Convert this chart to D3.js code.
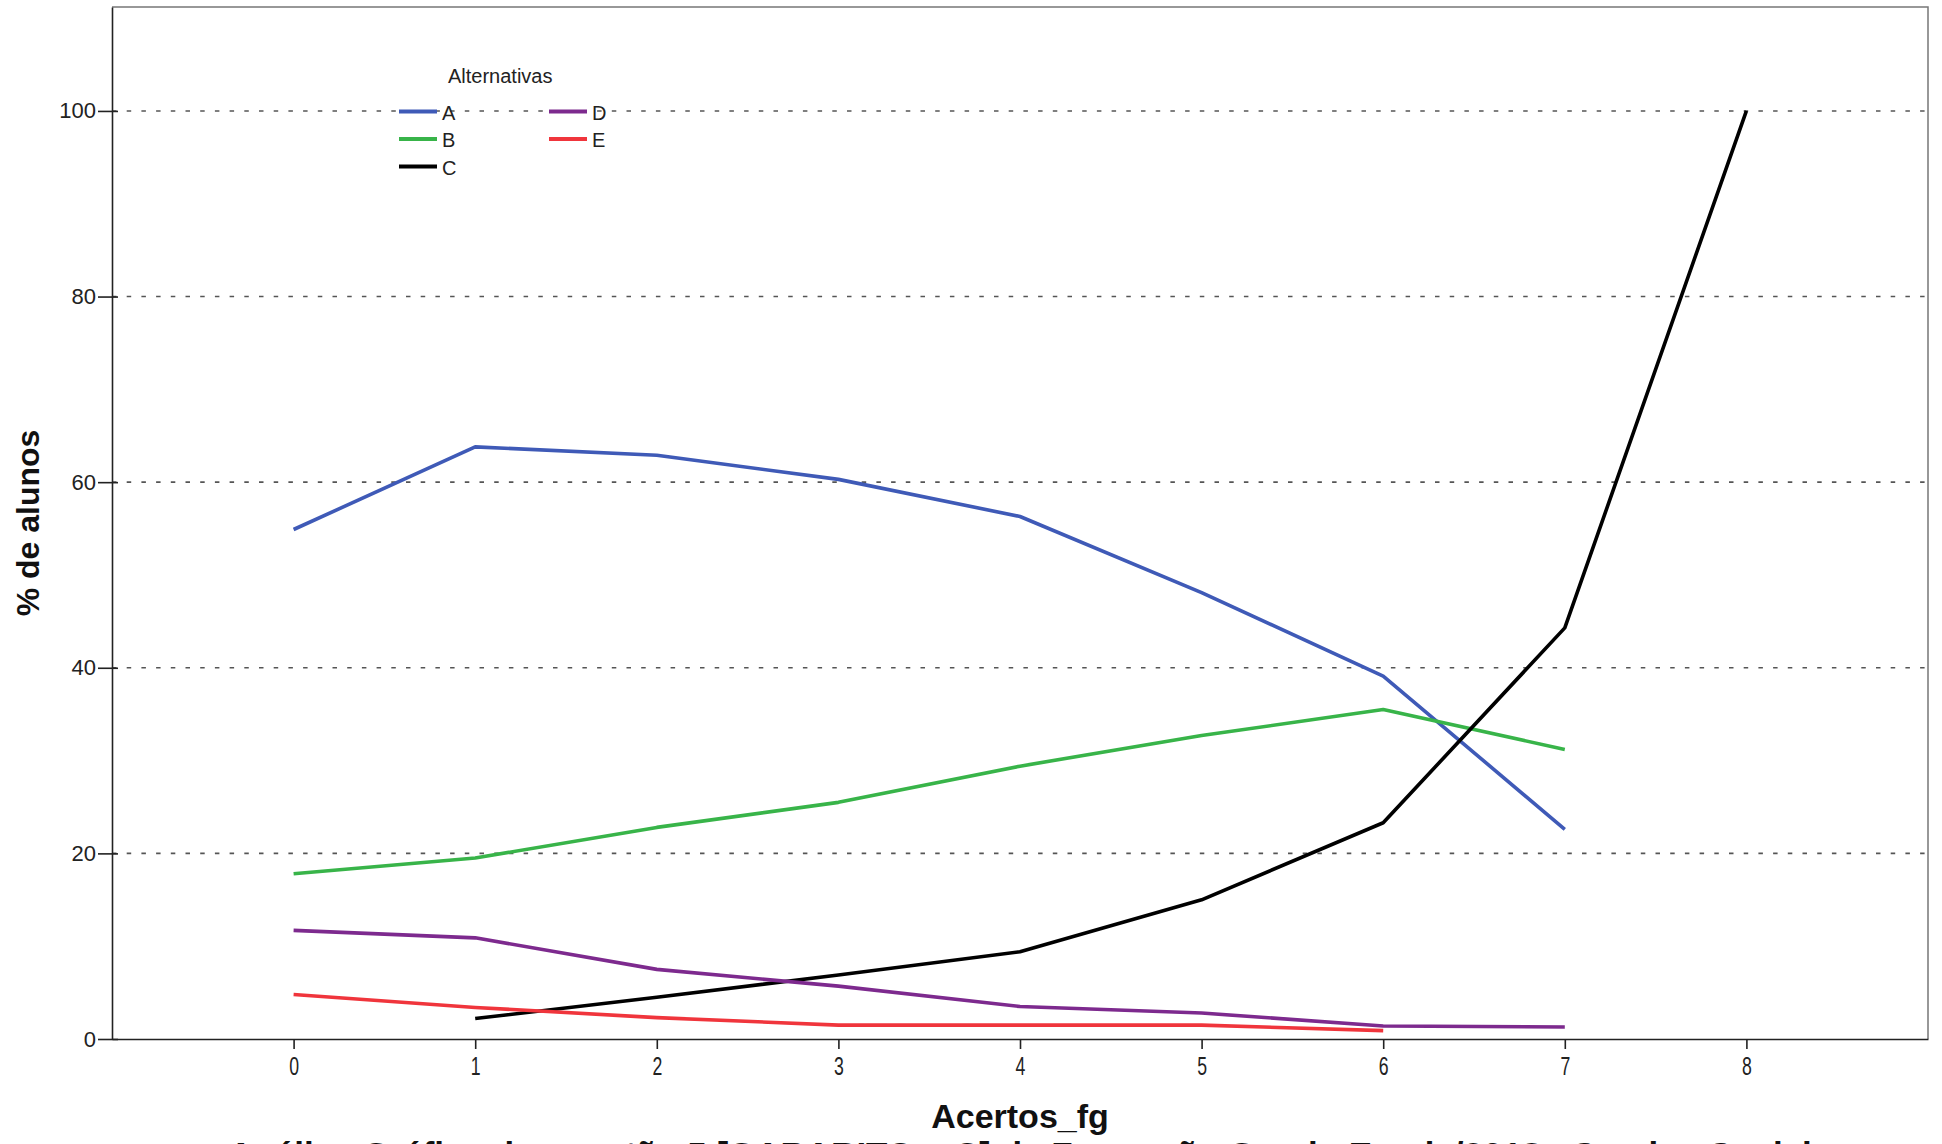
<!DOCTYPE html>
<html><head><meta charset="utf-8">
<script src="https://cdn.jsdelivr.net/npm/d3@7"></script>
<style>body{margin:0;background:#fff;overflow:hidden}svg{display:block}</style>
</head><body><svg id="c" width="1942" height="1144"></svg>
<script>
const xTicks = [0,1,2,3,4,5,6,7,8];
const yTicks = [0,20,40,60,80,100];
const seriesNames = ["A","B","C","D","E"];
const seriesColors = ["#3f5ab7","#38b449","#000000","#7d2a8e","#f0353c"];
const A = [[0,54.9],[1,63.8],[2,62.9],[3,60.3],[4,56.3],[5,48.1],[6,39.1],[7,22.6]];
const B = [[0,17.8],[1,19.5],[2,22.8],[3,25.5],[4,29.4],[5,32.7],[6,35.5],[7,31.2]];
const C = [[1,2.2],[2,4.5],[3,6.9],[4,9.4],[5,15.0],[6,23.3],[7,44.3],[8,100]];
const D = [[0,11.7],[1,10.9],[2,7.5],[3,5.7],[4,3.5],[5,2.8],[6,1.4],[7,1.3]];
const E = [[0,4.8],[1,3.4],[2,2.3],[3,1.5],[4,1.5],[5,1.5],[6,0.9]];
const seriesData = [A,B,C,D,E];

const FONT = "Liberation Sans, Arial, sans-serif";
const svg = d3.select("#c");
const L=112, R=1928, T=7, Bt=1039;
const x = d3.scaleLinear().domain([-1,9]).range([L,R]);
const y = d3.scaleLinear().domain([0,111.2]).range([Bt,T]);

// gridlines
svg.append("g").selectAll("line").data(yTicks.filter(d=>d>0)).join("line")
  .attr("x1",L).attr("x2",R).attr("y1",d=>y(d)).attr("y2",d=>y(d))
  .attr("stroke","#555").attr("stroke-width",1.6).attr("stroke-dasharray","4.5,10.2");

// frame top/right
svg.append("path").attr("d",`M${L},${T}H${R}V${Bt}`).attr("fill","none").attr("stroke","#777").attr("stroke-width",1.5);

// axes
const xa = svg.append("g").attr("transform",`translate(0,${Bt})`)
  .call(d3.axisBottom(x).tickValues(xTicks).tickSize(10).tickSizeOuter(0).tickPadding(8));
xa.select(".domain").attr("stroke","#222").attr("stroke-width",1.6);
xa.selectAll(".tick line").attr("stroke","#222").attr("stroke-width",1.6);
xa.selectAll(".tick text").attr("font-family",FONT).attr("font-size",26).attr("fill","#222")
  .attr("transform","scale(0.68,1)");

const ya = svg.append("g").attr("transform",`translate(${L},0)`)
  .call(d3.axisLeft(y).tickValues(yTicks).tickSize(14).tickSizeOuter(0).tickPadding(2));
ya.select(".domain").attr("stroke","#222").attr("stroke-width",1.6);
ya.selectAll(".tick line").attr("stroke","#222").attr("stroke-width",1.6).attr("x1",6);
ya.selectAll(".tick text").attr("font-family",FONT).attr("font-size",22).attr("fill","#222");

// lines
const line = d3.line().x(d=>x(d[0])).y(d=>y(d[1]));
svg.append("g").selectAll("path").data(seriesData).join("path")
  .attr("d",line).attr("fill","none")
  .attr("stroke",(d,i)=>seriesColors[i]).attr("stroke-width",3.6)
  .attr("stroke-linejoin","round");

// legend
const lg = svg.append("g").attr("font-family",FONT).attr("font-size",20).attr("fill","#222");
lg.append("text").attr("x",448).attr("y",83).text("Alternativas");
const pos = [[0,0],[0,1],[0,2],[1,0],[1,1]];
seriesNames.forEach((n,i)=>{
  const lx = 399 + pos[i][0]*150, ly = 111.5 + pos[i][1]*27.5;
  lg.append("line").attr("x1",lx).attr("x2",lx+38).attr("y1",ly).attr("y2",ly)
    .attr("stroke",seriesColors[i]).attr("stroke-width",4);
  lg.append("text").attr("x",lx+43).attr("y",ly+8).text(n);
});

// axis titles
svg.append("text").attr("x",x(4)).attr("y",1128).attr("text-anchor","middle")
  .attr("font-family",FONT).attr("font-weight","bold").attr("font-size",34).attr("fill","#111").text("Acertos_fg");
svg.append("text").attr("transform",`translate(39,${(y(0)+y(111.2))/2}) rotate(-90)`).attr("text-anchor","middle")
  .attr("font-family",FONT).attr("font-weight","bold").attr("font-size",32).attr("fill","#111").text("% de alunos");
svg.append("text").attr("x",x(4)).attr("y",1167).attr("text-anchor","middle")
  .attr("font-family",FONT).attr("font-weight","bold").attr("font-size",35).attr("fill","#111")
  .text("Análise Gráfica da questão 5 [GABARITO = C] da Formação Geral - Enade/2018 - Serviço Social");
</script></body></html>
